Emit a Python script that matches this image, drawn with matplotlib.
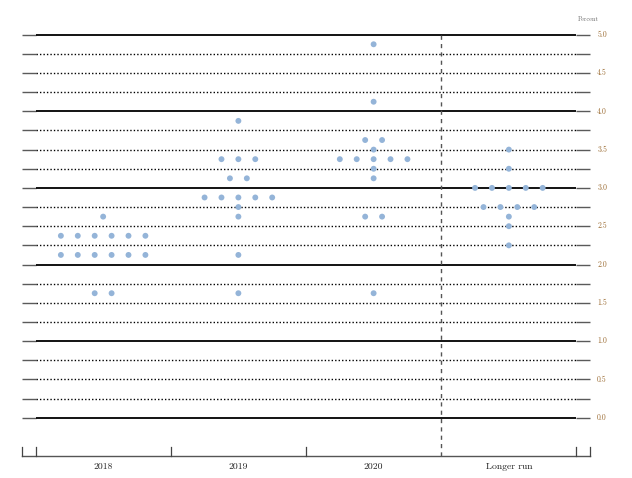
import numpy as np
import matplotlib
matplotlib.use('Agg')
import matplotlib.pyplot as plt

plt.rcParams['font.family'] = ['cmr10', 'DejaVu Serif']
plt.rcParams['axes.formatter.use_mathtext'] = True

# projections: level -> number of participants
periods = ['2018', '2019', '2020', 'Longer run']

levels_2018 = [1.625, 2.125, 2.375, 2.625]
counts_2018 = [2, 6, 6, 1]

levels_2019 = [1.625, 2.125, 2.625, 2.75, 2.875, 3.125, 3.375, 3.875]
counts_2019 = [1, 1, 1, 1, 5, 2, 3, 1]

levels_2020 = [1.625, 2.625, 3.125, 3.25, 3.375, 3.5, 3.625, 4.125, 4.875]
counts_2020 = [1, 2, 1, 1, 5, 1, 2, 1, 1]

levels_lr = [2.25, 2.5, 2.625, 2.75, 3.0, 3.25, 3.5]
counts_lr = [1, 1, 1, 4, 5, 1, 1]

tick_values = [0.0, 0.5, 1.0, 1.5, 2.0, 2.5, 3.0, 3.5, 4.0, 4.5, 5.0]

columns = [(levels_2018, counts_2018), (levels_2019, counts_2019),
           (levels_2020, counts_2020), (levels_lr, counts_lr)]

fig = plt.figure(figsize=(6.32, 4.78), dpi=100)
ax = fig.add_axes([22/632, 22/478, 568/632, 421.3/478])
ax.set_xlim(-0.6, 3.6)
ax.set_ylim(-0.5, 5.0)
ax.axis('off')

# horizontal grid every 0.25
x0, x1, xa, xb = -0.6, 3.6, -0.5, 3.5
for g in np.arange(0, 5.01, 0.25):
    ax.plot([x0, xa], [g, g], color='#5a5a5a', lw=1.0, clip_on=False, solid_capstyle='butt')
    ax.plot([xb, x1], [g, g], color='#5a5a5a', lw=1.0, clip_on=False, solid_capstyle='butt')
    if abs(g - round(g)) < 1e-9:
        ax.plot([xa, xb], [g, g], color='black', lw=1.3, clip_on=False, solid_capstyle='butt')
    else:
        ax.plot([xa, xb], [g, g], color='black', lw=1.0, linestyle=(0, (1, 1.5)), clip_on=False)

for t in tick_values:
    ax.text(3.653, t, f'{t:.1f}', fontsize=5.5, color='#9a6a30', va='center', ha='left')
ax.text(3.586, 5.2, 'Percent', fontsize=4.5, color='#6a6a6a', va='center', ha='center')

# bottom axis
ax.plot([x0, x1], [-0.5, -0.5], color='#555555', lw=1.0, clip_on=False)
for tx in [-0.6, -0.5, 0.5, 1.5, 3.5, 3.6]:
    ax.plot([tx, tx], [-0.5, -0.38], color='#444444', lw=0.9, clip_on=False)
for i, p in enumerate(periods):
    ax.text(i, -0.64, p, fontsize=7, ha='center', va='center', color='#222222')

# separator before longer run
ax.plot([2.5, 2.5], [-0.5, 4.99], color='#555555', lw=1.0, linestyle=(0, (3, 3)), clip_on=False)

# dots
step = 0.125
for i, (levels, counts) in enumerate(columns):
    for lv, n in zip(levels, counts):
        xs = i + (np.arange(n) - (n - 1) / 2) * step
        ax.scatter(xs, [lv] * n, s=18, color='#94b4d8', edgecolors='none', zorder=5, clip_on=False)

fig.savefig('out.png', dpi=100)
